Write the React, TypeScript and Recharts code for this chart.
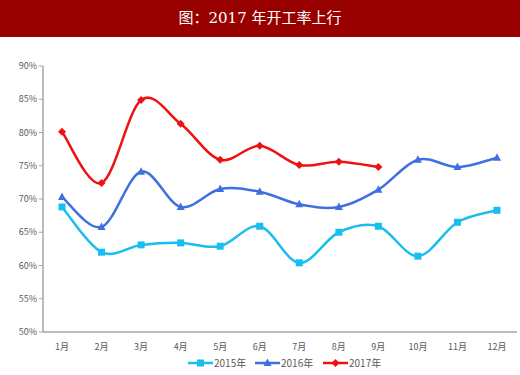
import React from 'react';
import { LineChart, Line, XAxis, YAxis } from 'recharts';

const MONTHS = ['1月', '2月', '3月', '4月', '5月', '6月', '7月', '8月', '9月', '10月', '11月', '12月'];
const Y2015 = [68.8, 62.0, 63.1, 63.4, 62.9, 65.9, 60.4, 65.0, 65.9, 61.4, 66.5, 68.3];
const Y2016 = [70.3, 65.8, 74.1, 68.8, 71.5, 71.1, 69.2, 68.8, 71.4, 75.9, 74.8, 76.2];
const Y2017 = [80.1, 72.4, 84.9, 81.3, 75.9, 78.0, 75.1, 75.6, 74.8];
const Y_TICKS = [50, 55, 60, 65, 70, 75, 80, 85, 90];

const data = MONTHS.map((m, i) => ({
  month: m,
  y2015: Y2015[i],
  y2016: Y2016[i],
  y2017: i < Y2017.length ? Y2017[i] : null,
}));

const C2015 = '#17BEEF';
const C2016 = '#3F6FE0';
const C2017 = '#EE1111';
const FONT = "'Noto Sans CJK SC', 'Noto Sans', sans-serif";

// excel-like smooth line (catmull-rom through points)
const smooth = (context: any) => {
  let pts: number[][] = [];
  return {
    areaStart() {},
    areaEnd() {},
    lineStart() {
      pts = [];
    },
    point(x: number, y: number) {
      pts.push([+x, +y]);
    },
    lineEnd() {
      if (!pts.length) return;
      context.moveTo(pts[0][0], pts[0][1]);
      for (let i = 0; i < pts.length - 1; i++) {
        const p0 = pts[i - 1] || pts[i];
        const p1 = pts[i];
        const p2 = pts[i + 1];
        const p3 = pts[i + 2] || p2;
        context.bezierCurveTo(
          p1[0] + (p2[0] - p0[0]) / 6,
          p1[1] + (p2[1] - p0[1]) / 6,
          p2[0] - (p3[0] - p1[0]) / 6,
          p2[1] - (p3[1] - p1[1]) / 6,
          p2[0],
          p2[1]
        );
      }
    },
  };
};

const Marker = ({ kind, cx, cy, color }: any) => {
  if (cx == null || cy == null) return null;
  if (kind === 'square') return <rect x={cx - 3.5} y={cy - 3.5} width={7} height={7} fill={color} />;
  if (kind === 'triangle')
    return <polygon points={`${cx},${cy - 4.5} ${cx + 4},${cy + 3} ${cx - 4},${cy + 3}`} fill={color} />;
  return <polygon points={`${cx},${cy - 4} ${cx + 4},${cy} ${cx},${cy + 4} ${cx - 4},${cy}`} fill={color} />;
};

const dot = (kind: string, color: string) => (props: any) =>
  <Marker key={`${kind}-${props.index}`} kind={kind} cx={props.cx} cy={props.cy} color={color} />;

const LEGEND = [
  { name: '2015年', color: C2015, kind: 'square', x: 176 },
  { name: '2016年', color: C2016, kind: 'triangle', x: 243 },
  { name: '2017年', color: C2017, kind: 'diamond', x: 311 },
];

const App = () => {
  return (
    <div style={{ position: 'absolute', left: 0, top: 0, width: 520, height: 375, background: '#fff' }}>
      <div
        style={{
          height: 37,
          background: '#980000',
          color: '#fff',
          fontFamily: "'DejaVu Serif', 'Noto Sans CJK SC', serif",
          fontSize: 15,
          lineHeight: '37px',
          textAlign: 'center',
        }}
      >
        图：2017 年开工率上行
      </div>
      <LineChart width={520} height={338} data={data} margin={{ top: 29, right: 3, left: 0, bottom: 13 }}>
        <XAxis
          dataKey="month"
          height={30}
          padding={{ left: 19, right: 20 }}
          tick={{ fill: '#595959', fontSize: 9, fontFamily: FONT }}
          tickLine={false}
          axisLine={{ stroke: '#a6a6a6', strokeWidth: 1.5 }}
          tickMargin={6}
        />
        <YAxis
          width={43}
          domain={[50, 90]}
          ticks={Y_TICKS}
          tickFormatter={(v) => `${v}%`}
          tick={{ fill: '#595959', fontSize: 9, fontFamily: FONT }}
          tickLine={{ stroke: '#a6a6a6' }}
          tickSize={4}
          axisLine={{ stroke: '#a6a6a6', strokeWidth: 1.5 }}
        />
        <Line dataKey="y2015" type={smooth as any} stroke={C2015} strokeWidth={2.5} dot={dot('square', C2015)} isAnimationActive={false} />
        <Line dataKey="y2016" type={smooth as any} stroke={C2016} strokeWidth={2.5} dot={dot('triangle', C2016)} isAnimationActive={false} />
        <Line dataKey="y2017" type={smooth as any} stroke={C2017} strokeWidth={2.5} dot={dot('diamond', C2017)} isAnimationActive={false} />
      </LineChart>
      <svg width={520} height={20} style={{ position: 'absolute', left: 0, top: 354 }}>
        {LEGEND.map((l) => (
          <g key={l.name}>
            <line x1={l.x + 12} x2={l.x + 37} y1={9} y2={9} stroke={l.color} strokeWidth={2.5} />
            <Marker kind={l.kind} cx={l.x + 24.5} cy={9} color={l.color} />
            <text x={l.x + 38} y={13} fontSize={10} fill="#595959" fontFamily={FONT}>
              {l.name}
            </text>
          </g>
        ))}
      </svg>
    </div>
  );
};

export default App;
